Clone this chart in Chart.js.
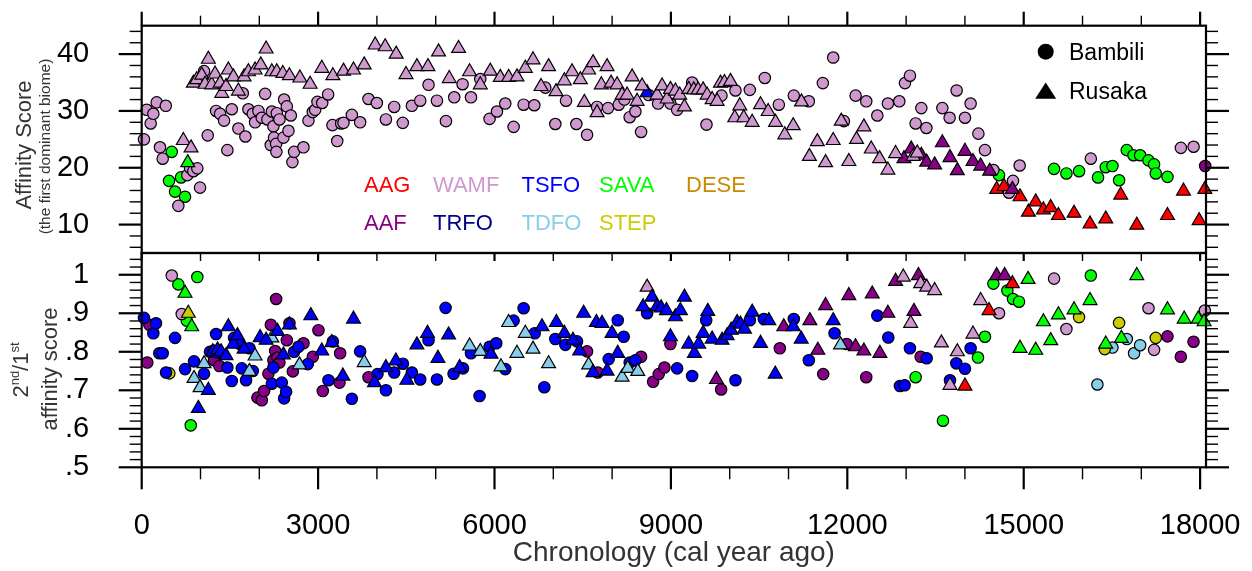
<!DOCTYPE html>
<html><head><meta charset="utf-8">
<script src="https://cdn.jsdelivr.net/npm/chart.js@4/dist/chart.umd.min.js"></script>
<style>html,body{margin:0;padding:0;background:#fff;}#wrap{position:relative;width:1252px;height:571px;}</style>
</head><body><div id="wrap"><canvas id="c" width="1252" height="571"></canvas></div>
<script>
// ---------- tick labels / categories ----------
const xTicks = [0, 3000, 6000, 9000, 12000, 15000, 18000];
const yTopTicks = [10, 20, 30, 40];
const yBotTicks = [0.5, 0.6, 0.7, 0.8, 0.9, 1.0];
const biomeRow1 = ['AAG', 'WAMF', 'TSFO', 'SAVA', 'DESE'];
const biomeRow2 = ['AAF', 'TRFO', 'TDFO', 'STEP'];
const biomeColor = {AAG:'#FF0000', AAF:'#880088', WAMF:'#CF99CF', TRFO:'#000088', TSFO:'#0000FF',
  TDFO:'#87CEEB', SAVA:'#00FF00', STEP:'#CCCC00', DESE:'#CC8800'};

// ---------- top panel: first dominant biome affinity score ----------
// Bambili (circles)
const topBamWAMF_age = [39,85,153,198,255,311,357,410,623,776,822,879,946,992,1060,1123,1265,1333,1401,1457,1532,1644,1719,1763,1815,1889,1928,1985,2042,2099,2138,2195,2213,2240,2250,2286,2290,2298,2343,2410,2422,2468,2496,2536,2563,2592,2751,2836,2910,2950,2989,3070,3170,3245,3325,3392,3432,3574,3715,3857,3999,4153,4294,4440,4595,4737,4878,5021,5174,5315,5457,5600,5758,5916,6042,6183,6325,6495,6677,6864,7034,7216,7392,7574,7744,7931,8112,8209,8299,8396,8493,8622,8782,8992,9106,9361,9605,9860,10098,10342,10597,10835,11090,11345,11584,11760,11941,12141,12322,12510,12690,12884,12980,13065,13162,13259,13344,13616,13740,13859,14001,14097,14229,14341,14484,14750,14818,14931,16141,17673,17889];
const topBamWAMF_val = [25.0,30.2,27.8,29.5,31.5,23.6,21.6,30.9,13.3,18.7,20.0,19.4,19.9,16.5,37.0,25.7,30.0,29.5,28.3,23.1,30.3,26.9,33.1,25.5,30.3,29.5,28.0,30.0,28.8,33.0,28.5,24.0,29.9,27.3,25.3,24.2,22.8,29.6,28.5,25.3,32.0,30.8,26.5,29.2,21.0,22.8,23.6,28.3,29.8,30.2,31.6,31.4,32.9,27.5,24.7,27.8,27.9,29.3,28.0,32.1,31.4,28.5,30.7,27.9,30.9,31.8,34.6,31.8,28.2,32.4,34.7,32.4,35.6,28.6,29.9,31.3,27.2,31.1,31.0,34.1,27.7,31.8,27.7,25.8,30.7,30.5,31.1,32.0,28.9,29.9,26.3,32.8,31.3,31.3,30.2,35.0,27.6,32.7,33.6,33.7,35.8,31.1,32.7,31.7,34.9,39.4,28.2,32.7,31.7,29.2,31.3,31.7,34.9,36.2,27.8,30.5,27.0,30.5,28.8,33.6,28.8,31.3,26.0,23.1,19.6,15.6,17.7,20.4,21.6,23.5,23.7];
const topBamSAVA_age = [465,511,567,669,737,14580,15516,15726,15941,16264,16395,16509,16622,16753,16867,16980,17122,17217,17246,17445];
const topBamSAVA_val = [17.7,22.8,15.8,18.3,14.9,18.7,19.8,19.0,19.4,18.3,20.1,20.3,17.8,23.1,22.2,22.2,21.3,20.6,19.0,18.4];
const topBamAAF_age = [18086];
const topBamAAF_val = [20.3];
// Rusaka (triangles)
const topRusWAMF_age = [708,839,879,936,1021,1077,1134,1191,1248,1333,1362,1435,1474,1559,1644,1741,1815,1928,2025,2116,2213,2298,2400,2512,2690,2864,3063,3251,3432,3602,3784,3971,4141,4328,4495,4680,4868,5048,5230,5389,5576,5758,5928,6098,6240,6382,6524,6655,6791,6920,7046,7188,7319,7460,7528,7601,7676,7744,7817,7914,7982,8085,8170,8255,8340,8425,8510,8765,8850,8935,8992,9077,9150,9230,9303,9388,9463,9548,9616,9701,9786,9843,9911,10013,10086,10171,10239,10382,10524,10654,10779,10937,11080,11220,11355,11490,11630,11760,11897,12026,12157,12282,12407,12549,12690,12821,13122,13190];
const topRusWAMF_val = [24.8,23.5,34.9,35.5,36.3,34.7,39.1,34.6,36.5,34.9,33.1,34.3,37.2,36.0,33.5,36.0,36.9,37.2,38.1,40.9,36.9,36.9,36.6,36.2,35.8,34.7,37.5,36.2,37.0,37.2,38.1,41.6,41.3,40.0,36.4,37.8,37.8,40.4,35.7,41.0,36.9,34.6,37.0,35.9,35.9,36.0,37.5,39.0,34.3,37.8,33.4,35.3,36.9,35.5,31.5,37.2,38.5,29.7,34.6,37.8,34.9,34.6,32.8,32.8,36.0,31.7,34.4,32.8,34.4,32.1,33.8,33.5,32.8,30.7,33.8,33.7,33.7,33.7,32.8,32.0,31.7,34.9,35.0,35.2,28.8,30.9,28.8,28.0,31.1,29.9,28.0,25.8,27.4,31.6,22.0,24.6,20.9,24.8,28.2,21.1,25.0,27.2,23.3,21.6,19.6,22.5,22.0,22.6];
const topRusSAVA_age = [783];
const topRusSAVA_val = [20.9];
const topRusTSFO_age = [8595];
const topRusTSFO_val = [33.2];
const topRusAAF_age = [12963,13088,13259,13349,13485,13616,13746,13871,14001,14137,14268,14421,14807];
const topRusAAF_val = [21.6,23.3,22.2,21.0,20.5,24.4,21.8,19.5,22.9,21.1,20.3,19.4,16.2];
const topRusAAG_age = [14540,14665,14937,15080,15204,15335,15459,15590,15856,16128,16395,16650,16923,17445,17717,17983,18080];
const topRusAAG_val = [16.2,16.7,14.9,12.2,14.0,12.6,13.0,11.6,12.0,10.1,11.0,15.2,9.9,11.6,15.9,10.7,16.2];

// ---------- bottom panel: 2nd/1st affinity score ratio ----------
// Bambili (circles)
const botBamTSFO_age = [39,198,243,300,357,414,567,737,890,1060,1162,1222,1265,1282,1457,1532,1571,1673,1702,1775,1832,1889,2213,2240,2383,2422,2456,2592,2666,2825,3176,3251,3574,3715,4010,4153,4294,4442,4595,4737,4878,5021,5168,5304,5464,5600,5746,5916,6030,6183,6325,6495,6683,6847,7034,7205,7403,7942,8096,8198,8299,8396,8595,9106,9361,9600,10098,10342,10580,11090,11345,11783,12510,12697,12895,12975,13065,13349,13746,13854,14001,14097];
const botBamTSFO_val = [0.888,0.848,0.874,0.796,0.796,0.746,0.836,0.755,0.775,0.743,0.800,0.803,0.846,0.798,0.759,0.724,0.836,0.820,0.757,0.726,0.809,0.750,0.717,0.759,0.720,0.679,0.696,0.800,0.813,0.768,0.726,0.827,0.678,0.801,0.742,0.700,0.746,0.769,0.746,0.728,0.830,0.728,0.914,0.743,0.757,0.796,0.685,0.813,0.822,0.755,0.881,0.913,0.848,0.708,0.833,0.818,0.827,0.781,0.882,0.839,0.772,0.778,0.900,0.757,0.737,0.882,0.726,0.882,0.885,0.885,0.778,0.848,0.894,0.837,0.711,0.713,0.809,0.783,0.726,0.770,0.756,0.809];
const botBamAAF_age = [95,130,1231,1321,1968,2042,2082,2155,2196,2240,2270,2286,2308,2342,2468,2513,2570,2751,2910,3006,3080,3364,3375,3857,7574,7755,8493,8697,8793,8890,8992,9854,10852,11590,11987,12322,13247,17445,17672,17888];
const botBamAAF_val = [0.772,0.870,0.778,0.763,0.681,0.674,0.698,0.743,0.870,0.778,0.802,0.937,0.785,0.772,0.830,0.874,0.749,0.822,0.787,0.856,0.698,0.720,0.796,0.734,0.801,0.746,0.787,0.722,0.742,0.759,0.820,0.702,0.809,0.742,0.820,0.734,0.787,0.840,0.787,0.826];
const botBamWAMF_age = [511,681,14580,15516,15726,17122,17217,18080];
const botBamWAMF_val = [0.998,0.898,0.900,0.990,0.859,0.913,0.805,0.907];
const botBamSAVA_age = [623,766,834,946,13162,13627,14222,14341,14484,14722,14818,14920,16141];
const botBamSAVA_val = [0.975,0.881,0.609,0.994,0.734,0.621,0.785,0.839,0.977,0.959,0.937,0.930,0.998];
const botBamSTEP_age = [470,15941,16378,16622,17246];
const botBamSTEP_val = [0.744,0.890,0.807,0.875,0.836];
const botBamTDFO_age = [16253,16509,16753,16877,16980];
const botBamTDFO_val = [0.715,0.811,0.833,0.796,0.817];
// Rusaka (triangles)
const botRusTSFO_age = [963,1134,1210,1290,1350,1435,1474,1559,1628,1741,2014,2116,2308,2410,2512,2876,3063,3234,3421,3602,3959,4153,4323,4510,4680,4861,5038,5219,5407,5940,6808,7052,7188,7335,7448,7516,7676,7733,7829,7914,7999,8096,8527,8680,8765,8833,8924,8992,9077,9162,9230,9303,9400,9473,9548,9627,9701,9871,9957,10025,10126,10183,10251,10382,10524,10665,10774,11080,11216,11760];
const botRusTSFO_val = [0.653,0.700,0.800,0.805,0.800,0.790,0.865,0.820,0.842,0.807,0.837,0.830,0.853,0.792,0.870,0.894,0.802,0.824,0.737,0.885,0.720,0.759,0.776,0.726,0.818,0.848,0.783,0.844,0.759,0.794,0.865,0.876,0.848,0.830,0.802,0.900,0.746,0.876,0.874,0.750,0.848,0.796,0.917,0.942,0.917,0.914,0.907,0.839,0.891,0.907,0.942,0.820,0.796,0.820,0.848,0.905,0.833,0.830,0.842,0.856,0.876,0.872,0.859,0.903,0.822,0.881,0.742,0.865,0.833,0.881];
const botRusTDFO_age = [890,992,1060,1832,1928,2213,2683,3784,5576,5758,6110,6240,6382,6524,6655,6920,7601,8170,8266,8436,11885];
const botRusTDFO_val = [0.731,0.707,0.769,0.749,0.789,0.836,0.766,0.772,0.815,0.801,0.761,0.876,0.796,0.848,0.807,0.769,0.766,0.734,0.757,0.749,0.818];
const botRusWAMF_age = [8595,12952,13077,13247,13349,13485,13600,13746,13871,14137,14268];
const botRusWAMF_val = [0.968,0.994,0.874,0.977,0.968,0.959,0.823,0.713,0.800,0.846,0.933];
const botRusAAF_age = [9775,10920,11363,11499,11630,12026,12140,12282,12424,12554,12690,12821,13133,13210,14540,14676];
const botRusAAF_val = [0.728,0.865,0.881,0.804,0.920,0.946,0.813,0.802,0.950,0.796,0.900,0.983,0.905,0.998,0.998,0.998];
const botRusSAVA_age = [737,851,14937,15074,15204,15335,15459,15590,15856,16128,16395,16662,16923,17445,17729,17967,18068];
const botRusSAVA_val = [0.952,0.865,0.809,0.988,0.804,0.878,0.829,0.896,0.909,0.933,0.820,0.835,0.998,0.909,0.885,0.885,0.878];
const botRusSTEP_age = [793];
const botRusSTEP_val = [0.900];
const botRusAAG_age = [14001,14410,14807];
const botRusAAG_val = [0.711,0.907,0.977];

// ---------- build datasets ----------
const FONT = "'Liberation Sans', Arial, Helvetica, sans-serif";
function ds(label, ages, vals, biome, axis, site) {
  const tri = site === 'Rusaka';
  return {
    label: label, yAxisID: axis,
    data: ages.map((a, i) => ({x: a, y: vals[i]})),
    pointStyle: tri ? 'triangle' : 'circle',
    pointRadius: tri ? 8 : 5.7, pointHoverRadius: tri ? 8 : 5.7,
    backgroundColor: biomeColor[biome], pointBackgroundColor: biomeColor[biome],
    pointBorderColor: '#000', pointBorderWidth: 1.2, borderColor: '#000',
    showLine: false, clip: false, order: tri ? 0 : 1
  };
}
const datasets = [
  ds('Bambili WAMF', topBamWAMF_age, topBamWAMF_val, 'WAMF', 'yTop', 'Bambili'),
  ds('Bambili SAVA', topBamSAVA_age, topBamSAVA_val, 'SAVA', 'yTop', 'Bambili'),
  ds('Bambili AAF', topBamAAF_age, topBamAAF_val, 'AAF', 'yTop', 'Bambili'),
  ds('Rusaka WAMF', topRusWAMF_age, topRusWAMF_val, 'WAMF', 'yTop', 'Rusaka'),
  ds('Rusaka SAVA', topRusSAVA_age, topRusSAVA_val, 'SAVA', 'yTop', 'Rusaka'),
  ds('Rusaka TSFO', topRusTSFO_age, topRusTSFO_val, 'TSFO', 'yTop', 'Rusaka'),
  ds('Rusaka AAF', topRusAAF_age, topRusAAF_val, 'AAF', 'yTop', 'Rusaka'),
  ds('Rusaka AAG', topRusAAG_age, topRusAAG_val, 'AAG', 'yTop', 'Rusaka'),
  ds('Bambili TSFO r', botBamTSFO_age, botBamTSFO_val, 'TSFO', 'yBot', 'Bambili'),
  ds('Bambili AAF r', botBamAAF_age, botBamAAF_val, 'AAF', 'yBot', 'Bambili'),
  ds('Bambili WAMF r', botBamWAMF_age, botBamWAMF_val, 'WAMF', 'yBot', 'Bambili'),
  ds('Bambili SAVA r', botBamSAVA_age, botBamSAVA_val, 'SAVA', 'yBot', 'Bambili'),
  ds('Bambili STEP r', botBamSTEP_age, botBamSTEP_val, 'STEP', 'yBot', 'Bambili'),
  ds('Bambili TDFO r', botBamTDFO_age, botBamTDFO_val, 'TDFO', 'yBot', 'Bambili'),
  ds('Rusaka TSFO r', botRusTSFO_age, botRusTSFO_val, 'TSFO', 'yBot', 'Rusaka'),
  ds('Rusaka TDFO r', botRusTDFO_age, botRusTDFO_val, 'TDFO', 'yBot', 'Rusaka'),
  ds('Rusaka WAMF r', botRusWAMF_age, botRusWAMF_val, 'WAMF', 'yBot', 'Rusaka'),
  ds('Rusaka AAF r', botRusAAF_age, botRusAAF_val, 'AAF', 'yBot', 'Rusaka'),
  ds('Rusaka SAVA r', botRusSAVA_age, botRusSAVA_val, 'SAVA', 'yBot', 'Rusaka'),
  ds('Rusaka STEP r', botRusSTEP_age, botRusSTEP_val, 'STEP', 'yBot', 'Rusaka'),
  ds('Rusaka AAG r', botRusAAG_age, botRusAAG_val, 'AAG', 'yBot', 'Rusaka')
];

// ---------- decoration plugin (frames, minor ticks, titles, legend) ----------
function line(ctx, x1, y1, x2, y2) { ctx.beginPath(); ctx.moveTo(x1, y1); ctx.lineTo(x2, y2); ctx.stroke(); }
function vtext(ctx, text, baseX, cy, font, color) {
  ctx.save(); ctx.translate(baseX, cy); ctx.rotate(-Math.PI / 2);
  ctx.font = font; ctx.fillStyle = color; ctx.textAlign = 'center'; ctx.textBaseline = 'alphabetic';
  ctx.fillText(text, 0, 0); ctx.restore();
}
const deco = {
  id: 'deco',
  afterDraw(chart) {
    const ctx = chart.ctx, xs = chart.scales.x, yt = chart.scales.yTop, yb = chart.scales.yBot;
    const L = chart.chartArea.left, R = chart.chartArea.right, T = yt.top, M = yt.bottom, B = yb.bottom;
    ctx.save();
    ctx.strokeStyle = '#000'; ctx.lineCap = 'butt';
    // x ticks
    for (let v = 0; v <= 18000; v += 1000) {
      const px = xs.getPixelForValue(v), major = v % 3000 === 0;
      ctx.lineWidth = major ? 2.2 : 1.4;
      line(ctx, px, T, px, T - (major ? 14 : 10));
      line(ctx, px, M, px, M + 8);
      line(ctx, px, B, px, B + (major ? 22 : 12));
    }
    // top panel y ticks
    for (let v = 6; v <= 44; v += 2) {
      const py = yt.getPixelForValue(v), major = v % 10 === 0, len = major ? 23 : 12;
      ctx.lineWidth = major ? 2.2 : 1.4;
      line(ctx, L, py, L - len, py); line(ctx, R, py, R + len, py);
    }
    // bottom panel y ticks
    for (let k = 25; k <= 52; k++) {
      const py = yb.getPixelForValue(k / 50), major = k % 5 === 0, len = major ? 23 : 12;
      ctx.lineWidth = major ? 2.2 : 1.4;
      line(ctx, L, py, L - len, py); line(ctx, R, py, R + len, py);
    }
    // frames
    ctx.lineWidth = 2.2;
    ctx.strokeRect(L, T, R - L, M - T);
    ctx.strokeRect(L, M, R - L, B - M);
    // axis titles
    const tcol = '#333';
    vtext(ctx, 'Affinity Score', 31, 145, '22px ' + FONT, tcol);
    vtext(ctx, '(the first dominant biome)', 50, 146.5, '15.5px ' + FONT, tcol);
    vtext(ctx, 'affinity score', 57, 369, '22px ' + FONT, tcol);
    // 2nd/1st with superscripts
    ctx.save(); ctx.translate(28, 370); ctx.rotate(-Math.PI / 2);
    ctx.fillStyle = tcol; ctx.textBaseline = 'alphabetic'; ctx.textAlign = 'left';
    const parts = [['2', 22, 0], ['nd', 13, -9], ['/', 22, 0], ['1', 22, 0], ['st', 13, -9]];
    let w = 0;
    parts.forEach(p => { ctx.font = p[1] + 'px ' + FONT; w += ctx.measureText(p[0]).width; });
    let cx = -w / 2;
    parts.forEach(p => { ctx.font = p[1] + 'px ' + FONT; ctx.fillText(p[0], cx, p[2]); cx += ctx.measureText(p[0]).width; });
    ctx.restore();
    ctx.font = '28px ' + FONT; ctx.fillStyle = tcol; ctx.textAlign = 'center'; ctx.textBaseline = 'alphabetic';
    ctx.fillText('Chronology (cal year ago)', (L + R) / 2, 561);
    // biome colour labels
    const bx = [364, 433, 521.5, 599, 686];
    ctx.font = '22px ' + FONT; ctx.textAlign = 'left';
    biomeRow1.forEach((b, i) => { ctx.fillStyle = biomeColor[b]; ctx.fillText(b, bx[i], 191.5); });
    biomeRow2.forEach((b, i) => { ctx.fillStyle = biomeColor[b]; ctx.fillText(b, bx[i], 229.5); });
    // site legend
    ctx.fillStyle = '#000';
    ctx.beginPath(); ctx.arc(1045.7, 51.7, 8, 0, Math.PI * 2); ctx.fill();
    ctx.beginPath(); ctx.moveTo(1045.7, 82.5); ctx.lineTo(1056.2, 98.8); ctx.lineTo(1035.2, 98.8); ctx.closePath(); ctx.fill();
    ctx.font = '23px ' + FONT;
    ctx.fillText('Bambili', 1069, 60);
    ctx.fillText('Rusaka', 1069, 98.8);
    ctx.restore();
  }
};

const tickFont = {family: FONT, size: 29};
function noPad(s) { s.paddingTop = 0; s.paddingBottom = 0; s.paddingLeft = 0; s.paddingRight = 0; }
new Chart(document.getElementById('c'), {
  type: 'scatter',
  data: {datasets: datasets},
  options: {
    responsive: false, animation: false, devicePixelRatio: 1,
    layout: {padding: {top: 25.7, right: 46, bottom: 0, left: 0}},
    plugins: {legend: {display: false}, tooltip: {enabled: false}},
    scales: {
      x: {
        type: 'linear', position: 'bottom', min: 0, max: 18100,
        grid: {display: false}, border: {display: false},
        afterBuildTicks: s => { s.ticks = xTicks.map(v => ({value: v})); },
        afterFit: s => { s.height = 571 - 467.3; noPad(s); },
        ticks: {font: tickFont, color: '#000', padding: 33, maxRotation: 0, autoSkip: false, callback: v => String(v)}
      },
      yTop: {
        type: 'linear', position: 'left', stack: 'panels', stackWeight: 227.3, weight: 2,
        min: 5, max: 45, grid: {display: false}, border: {display: false},
        afterBuildTicks: s => { s.ticks = yTopTicks.map(v => ({value: v})); },
        afterFit: s => { s.width = 141.7; noPad(s); },
        ticks: {font: tickFont, color: '#000', padding: 44.5, autoSkip: false, callback: v => String(v)}
      },
      yBot: {
        type: 'linear', position: 'left', stack: 'panels', stackWeight: 214.3, weight: 1,
        min: 0.5, max: 1.0565, grid: {display: false}, border: {display: false},
        afterBuildTicks: s => { s.ticks = yBotTicks.map(v => ({value: v})); },
        afterFit: s => { s.width = 141.7; noPad(s); },
        ticks: {font: tickFont, color: '#000', padding: 44.5, autoSkip: false,
          callback: v => (Math.abs(v - 1) < 1e-9 ? '1' : '.' + Math.round(v * 10))}
      }
    }
  },
  plugins: [deco]
});
</script></body></html>
